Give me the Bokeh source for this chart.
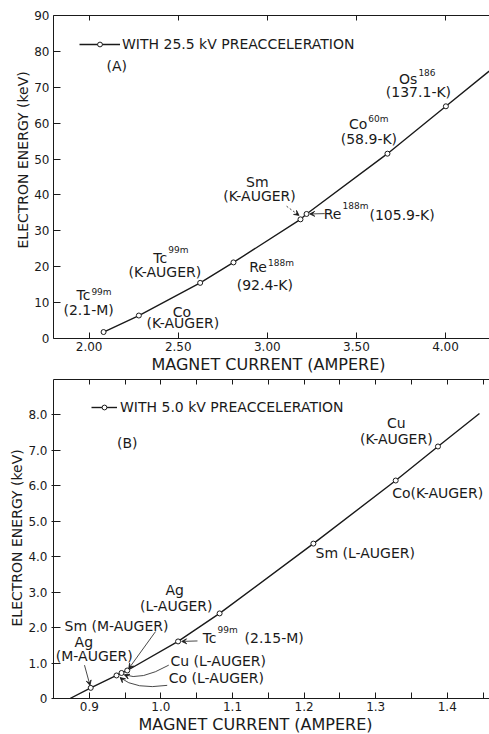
from bokeh.plotting import figure
from bokeh.layouts import column
from bokeh.models import (Range1d, LinearAxis, FixedTicker, Label, Arrow, VeeHead,
                          Legend, LegendItem, Title)
from bokeh.embed import file_html
from bokeh.resources import INLINE

FONT = "DejaVu Sans"
INK = "#1a1a1a"

# ---------------- Panel (A): 25.5 kV preacceleration ----------------
a_names = ["Tc99m 2.1-M", "Co K-AUGER", "Tc99m K-AUGER", "Re188m 92.4-K",
           "Sm K-AUGER", "Re188m 105.9-K", "Co60m 58.9-K", "Os186 137.1-K"]
a_current = [2.081, 2.279, 2.623, 2.810, 3.186, 3.220, 3.674, 4.002]
a_energy = [1.8, 6.4, 15.5, 21.2, 33.2, 34.7, 51.5, 64.7]
a_curve_current = a_current + [4.245]
a_curve_energy = a_energy + [74.5]
a_xticks = [2.0, 2.5, 3.0, 3.5, 4.0]
a_xlabels = ["2.00", "2.50", "3.00", "3.50", "4.00"]
a_xminor = []
a_yticks = [0, 10, 20, 30, 40, 50, 60, 70, 80, 90]
a_ylabels = ["0", "10", "20", "30", "40", "50", "60", "70", "80", "90"]

# ---------------- Panel (B): 5.0 kV preacceleration ----------------
b_names = ["Ag M-AUGER", "Co L-AUGER", "Cu L-AUGER", "Sm M-AUGER", "Tc99m 2.15-M",
           "Ag L-AUGER", "Sm L-AUGER", "Co K-AUGER", "Cu K-AUGER"]
b_current = [0.902, 0.938, 0.945, 0.953, 1.024, 1.082, 1.213, 1.328, 1.387]
b_energy = [0.30, 0.65, 0.72, 0.79, 1.61, 2.40, 4.37, 6.15, 7.11]
b_curve_current = [0.873] + b_current + [1.445]
b_curve_energy = [0.0] + b_energy + [8.04]
b_xticks = [0.9, 1.0, 1.1, 1.2, 1.3, 1.4]
b_xlabels = ["0.9", "1.0", "1.1", "1.2", "1.3", "1.4"]
b_xminor = [0.95, 1.05, 1.15, 1.25, 1.35, 1.45]
b_yticks = [0, 1, 2, 3, 4, 5, 6, 7, 8]
b_ylabels = ["0", "1.0", "2.0", "3.0", "4.0", "5.0", "6.0", "7.0", "8.0"]

X_TITLE = "MAGNET CURRENT (AMPERE)"
Y_TITLE = "ELECTRON ENERGY (keV)"
TXT = "14px"


def style_axes(p, xticks, xlabels, xminor, yticks, ylabels, left_out=0):
    p.outline_line_color = None
    p.xgrid.visible = False
    p.ygrid.visible = False
    xa = p.xaxis[0]
    ya = p.yaxis[0]
    xa.ticker = FixedTicker(ticks=xticks, minor_ticks=xminor)
    xa.major_label_overrides = {t: l for t, l in zip(xticks, xlabels)}
    ya.ticker = FixedTicker(ticks=yticks)
    ya.major_label_overrides = {t: l for t, l in zip(yticks, ylabels)}
    for ax in (xa, ya):
        ax.axis_line_color = INK
        ax.major_tick_line_color = INK
        ax.minor_tick_line_color = None
        ax.major_label_text_font = FONT
        ax.major_label_text_font_size = "12px"
        ax.major_label_text_color = INK
    xa.major_tick_in = 6
    xa.major_tick_out = 0
    xa.minor_tick_line_color = INK
    xa.minor_tick_in = 6
    xa.minor_tick_out = 0
    xa.major_label_standoff = 3
    ya.major_tick_in = 7
    ya.major_tick_out = left_out
    ya.major_label_standoff = 4
    top = LinearAxis(ticker=FixedTicker(ticks=xticks, minor_ticks=xminor),
                     major_label_text_color=None, major_label_text_font_size="1px",
                     major_tick_in=5, major_tick_out=0, axis_line_color=INK,
                     major_tick_line_color=INK, minor_tick_line_color=INK,
                     minor_tick_in=5, minor_tick_out=0, major_label_standoff=0)
    p.add_layout(top, "above")


def titles(p, x_off, y_off):
    # axis titles as side-panel titles, shifted along the axis by an offset in pixels
    p.add_layout(Title(text=X_TITLE, align="left", offset=x_off, standoff=0,
                       vertical_align="middle", text_font=FONT, text_font_size="16px",
                       text_font_style="normal", text_color=INK), "below")
    p.add_layout(Title(text=Y_TITLE, align="left", offset=y_off, standoff=0,
                       vertical_align="middle", text_font=FONT, text_font_size="14px",
                       text_font_style="normal", text_color=INK), "left")


def lab(p, x, y, text, size=TXT, align="center", x_offset=0):
    p.add_layout(Label(x=x, y=y, text=text, text_font=FONT, text_font_size=size,
                       text_align=align, text_baseline="middle", x_offset=x_offset,
                       text_color=INK))


def sup(p, x, y, base, s, y_sup):
    lab(p, x, y, base, align="right")
    lab(p, x, y_sup, s, size="9px", align="left", x_offset=1)


def arrow(p, xs, ys, xe, ye, dash="solid"):
    p.add_layout(Arrow(end=VeeHead(size=5, fill_color=INK, line_color=INK, line_width=0.8),
                       x_start=xs, y_start=ys, x_end=xe, y_end=ye,
                       line_color=INK, line_width=0.8, line_dash=dash))


def curved(p, x0, y0, cx, cy, x1, y1):
    p.quadratic(x0=[x0], y0=[y0], cx=[cx], cy=[cy], x1=[x1], y1=[y1],
                line_color=INK, line_width=0.8)
    arrow(p, x1 - 0.12 * (x1 - cx), y1 - 0.12 * (y1 - cy), x1, y1)


# ================= Figure A =================
pa = figure(width=489, height=374, output_backend="svg", toolbar_location=None,
            x_range=Range1d(1.8, 4.2467), y_range=Range1d(0, 90),
            min_border_left=53, min_border_right=0, min_border_top=15, min_border_bottom=36)
style_axes(pa, a_xticks, a_xlabels, a_xminor, a_yticks, a_ylabels)
titles(pa, 98, 90)

ra_line = pa.line(a_curve_current, a_curve_energy, line_color=INK, line_width=1.4)
ra_pts = pa.scatter(a_current, a_energy, size=5, marker="circle", fill_color="white",
                    line_color=INK, line_width=1)

leg_a = Legend(items=[LegendItem(label="WITH 25.5 kV PREACCELERATION",
                                 renderers=[ra_line, ra_pts])],
               location=(26, 286), border_line_color=None, background_fill_alpha=0,
               padding=0, margin=0, spacing=0, glyph_width=41, glyph_height=12,
               label_height=12, label_standoff=2, label_text_font=FONT,
               label_text_font_size=TXT, label_text_color=INK)
pa.add_layout(leg_a)

lab(pa, 2.155, 75.85, "(A)")
# Tc99m (2.1-M)
sup(pa, 2.007, 12.06, "Tc", "99m", 12.9)
lab(pa, 1.997, 7.88, "(2.1-M)")
# Co K-AUGER
lab(pa, 2.520, 7.41, "Co")
lab(pa, 2.526, 4.26, "(K-AUGER)")
# Tc99m K-AUGER
sup(pa, 2.438, 22.37, "Tc", "99m", 24.6)
lab(pa, 2.425, 18.55, "(K-AUGER)")
# Re188m (92.4-K)
sup(pa, 2.998, 19.94, "Re", "188m", 20.97)
lab(pa, 2.986, 15.04, "(92.4-K)")
# Sm K-AUGER
lab(pa, 2.944, 43.54, "Sm")
lab(pa, 2.956, 39.58, "(K-AUGER)")
arrow(pa, 3.108, 36.85, a_current[4] - 0.008, a_energy[4] + 1.1, dash="2 2")
# Re188m (105.9-K)
arrow(pa, 3.322, 34.8, a_current[5] + 0.018, a_energy[5])
sup(pa, 3.416, 34.6, "Re", "188m", 36.85)
lab(pa, 3.416, 34.3, "(105.9-K)", align="left", x_offset=28)
# Co60m (58.9-K)
sup(pa, 3.561, 59.9, "Co", "60m", 61.1)
lab(pa, 3.570, 55.7, "(58.9-K)")
# Os186 (137.1-K)
sup(pa, 3.842, 72.4, "Os", "186", 74.2)
lab(pa, 3.848, 68.8, "(137.1-K)")

# ================= Figure B =================
pb = figure(width=489, height=360, output_backend="svg", toolbar_location=None,
            x_range=Range1d(0.85, 1.459), y_range=Range1d(0, 9.0),
            min_border_left=53, min_border_right=0, min_border_top=5, min_border_bottom=35)
style_axes(pb, b_xticks, b_xlabels, b_xminor, b_yticks, b_ylabels, left_out=2)
titles(pb, 85, 72)

rb_line = pb.line(b_curve_current, b_curve_energy, line_color=INK, line_width=1.4)
rb_pts = pb.scatter(b_current, b_energy, size=5, marker="circle", fill_color="white",
                    line_color=INK, line_width=1)

leg_b = Legend(items=[LegendItem(label="WITH 5.0 kV PREACCELERATION",
                                 renderers=[rb_line, rb_pts])],
               location=(38, 283), border_line_color=None, background_fill_alpha=0,
               padding=0, margin=0, spacing=0, glyph_width=26, glyph_height=12,
               label_height=12, label_standoff=3, label_text_font=FONT,
               label_text_font_size=TXT, label_text_color=INK)
pb.add_layout(leg_b)

lab(pb, 0.953, 7.21, "(B)")
lab(pb, 1.3288, 7.76, "Cu")
lab(pb, 1.3288, 7.32, "(K-AUGER)")
lab(pb, 1.323, 5.795, "Co(K-AUGER)", align="left")
lab(pb, 1.216, 4.11, "Sm (L-AUGER)", align="left")
lab(pb, 1.0193, 3.056, "Ag")
lab(pb, 1.0215, 2.62, "(L-AUGER)")
# Tc99m (2.15-M)
arrow(pb, 1.0511, 1.624, b_current[4] + 0.005, b_energy[4])
sup(pb, 1.0777, 1.713, "Tc", "99m", 1.93)
lab(pb, 1.0777, 1.72, "(2.15-M)", align="left", x_offset=28)
# Sm (M-AUGER)
lab(pb, 0.8654, 2.04, "Sm (M-AUGER)", align="left")
arrow(pb, 0.9925, 1.888, b_current[3] + 0.002, b_energy[3] + 0.05)
# Ag (M-AUGER)
lab(pb, 0.8923, 1.607, "Ag")
lab(pb, 0.907, 1.202, "(M-AUGER)")
arrow(pb, 0.8933, 0.941, b_current[0] - 0.001, b_energy[0] + 0.07)
# Cu (L-AUGER), Co (L-AUGER)
lab(pb, 1.0134, 1.045, "Cu (L-AUGER)", align="left")
curved(pb, 1.011, 0.941, 0.9715, 0.49, b_current[2] + 0.004, b_energy[2] - 0.05)
lab(pb, 1.011, 0.576, "Co (L-AUGER)", align="left")
curved(pb, 1.0088, 0.371, 0.9645, 0.239, b_current[1] + 0.005, b_energy[1] - 0.06)

layout = column(pa, pb, spacing=0)
open("out.html", "w").write(file_html(layout, INLINE))
